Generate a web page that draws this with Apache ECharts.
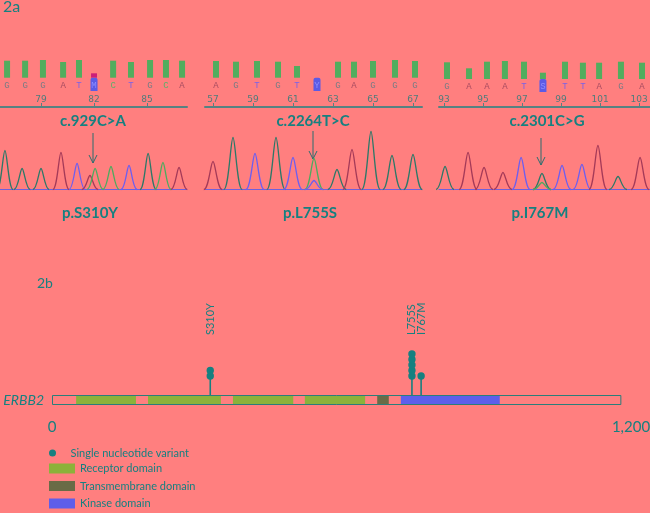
<!DOCTYPE html>
<html><head><meta charset="utf-8">
<script src="https://cdn.jsdelivr.net/npm/echarts@6/dist/echarts.min.js"></script>
<style>html,body{margin:0;padding:0;background:#FF7F7F}#c{width:650px;height:513px}</style>
</head><body><div id="c"></div><script>
// ---------- DATA ----------
// Panel 1: c.929C>A (p.S310Y)
const p1Bases = ['G','G','G','A','T','M','C','T','G','C','A'];
const p1BasePos = [77.08,78.10,79.11,80.25,81.15,82.00,83.08,84.09,85.17,86.07,86.98];
const p1Quality = [17,17,17.7,15.7,17.7,4.4,17,15.7,17.7,17.7,17];
const p1Ticks = [79,82,85];
const p1PeakPos = [76.96,77.93,79.00,80.13,81.04,81.77,82.06,82.96,83.98,85.06,85.90,86.81];
const p1PeakHeight = [39,21,21,37,26,14,21,23,24,36,27,22];
const p1PeakBase = ['G','G','G','A','T','A','C','C','T','G','C','A'];
const p1MutIndex = 5;

// Panel 2: c.2264T>C (p.L755S)
const p2Bases = ['A','G','T','G','T','Y','G','A','G','G','G'];
const p2BasePos = [57.15,58.15,59.2,60.25,61.2,62.2,63.25,64.05,65.0,66.1,67.1];
const p2Quality = [16.7,16,16.7,16,11.7,0,16,16,16.7,17.7,16.7];
const p2Ticks = [57,59,61,63,65,67];
const p2PeakPos = [57.0,58.0,59.1,60.15,61.0,62.05,62.05,63.2,63.95,64.9,65.95,67.0];
const p2PeakHeight = [28,52,36,52,32,31,9,20,40,58,34,35];
const p2PeakBase = ['A','G','T','G','T','C','T','G','A','G','G','G'];
const p2MutIndex = 5;

// Panel 3: c.2301C>G (p.I767M)
const p3Bases = ['G','A','A','A','T','S','T','T','A','G','A'];
const p3BasePos = [93.15,94.28,95.2,96.12,97.1,98.07,99.2,100.12,100.95,102.07,103.15];
const p3Quality = [16.7,10.7,17.3,18,17.3,6.3,17.3,16.3,16.3,17.3,16.3];
const p3Ticks = [93,95,97,99,101,103];
const p3PeakPos = [93.05,94.23,95.05,96.02,96.95,98.02,98.02,99.05,100.07,100.89,101.92,103.05];
const p3PeakHeight = [23,37,22,17,32,16,7,24,25,44,13,32];
const p3PeakBase = ['G','A','A','A','T','G','C','T','T','A','G','A'];
const p3MutIndex = 5;

const cdnaLabels = ['c.929C>A','c.2264T>C','c.2301C>G'];
const proteinLabels = ['p.S310Y','p.L755S','p.I767M'];

// Panel 2b: ERBB2 lollipop
const variantLabels = ['S310Y','L755S','I767M'];
const variantPos = [328, 746, 765];
const variantCount = [2, 5, 1];
const proteinSpan = [[0, 1180]];
const receptorDomains = [[50,174],[199,350],[375,500],[524,649]];
const transmembraneDomains = [[674,698]];
const kinaseDomains = [[723,928]];
const proteinAxisTicks = [0, 1200];

// ---------- STYLE ----------
const TEAL = '#168080';
const chan = {G:'#2c7868', A:'#a53a58', T:'#6d5ef0', C:'#4dab5e'};
const letterCol = {G:'#7a7c84', A:'#a54a5f', T:'#7a62e8', C:'#5db06a'};
const FONT = 'Lato, "Open Sans", sans-serif';

const panels = [
  {left:0,   width:187, min:76.68, max:87.26, barBase:29.3, mutBar:'#cc1f78', pos:p1BasePos, q:p1Quality, bases:p1Bases, ticks:p1Ticks, pk:p1PeakPos, ph:p1PeakHeight, pb:p1PeakBase, mut:p1MutIndex},
  {left:205, width:217, min:56.6,  max:67.45, barBase:29.3, mutBar:'#52ad5e', pos:p2BasePos, q:p2Quality, bases:p2Bases, ticks:p2Ticks, pk:p2PeakPos, ph:p2PeakHeight, pb:p2PeakBase, mut:p2MutIndex},
  {left:439, width:211, min:92.74, max:103.56, barBase:28, mutBar:'#52ad5e', pos:p3BasePos, q:p3Quality, bases:p3Bases, ticks:p3Ticks, pk:p3PeakPos, ph:p3PeakHeight, pb:p3PeakBase, mut:p3MutIndex}
];

const grids = [], xAxes = [], yAxes = [], series = [];
panels.forEach((P, i) => {
  grids.push({left:P.left, width:P.width, top:50, height:57, outerBoundsMode:'none', containLabel:false});
  xAxes.push({type:'value', gridIndex:i, min:P.min, max:P.max, splitLine:{show:false},
    axisLine:{show:true, lineStyle:{color:'#568282', width:2}},
    axisTick:{show:true, inside:true, length:4, lineStyle:{color:'#568282', width:1}, customValues:P.ticks},
    axisLabel:{show:true, inside:true, margin:3, fontSize:9, color:'#4f7c7c', fontFamily:'"DejaVu Sans", sans-serif', customValues:P.ticks}});
  yAxes.push({type:'value', gridIndex:i, min:0, max:57, show:false});
});
panels.forEach((P, i) => {
  grids.push({left:P.left, width:P.width, top:129.5, height:60, outerBoundsMode:'none', containLabel:false});
  xAxes.push({type:'value', gridIndex:3+i, min:P.min, max:P.max, splitLine:{show:false},
    axisLine:{show:true, lineStyle:{color:'#6f60dc', width:1}}, axisTick:{show:false}, axisLabel:{show:false}});
  yAxes.push({type:'value', gridIndex:3+i, min:0, max:60, show:false});
});
grids.push({left:52, width:579, top:300, height:105, outerBoundsMode:'none', containLabel:false});
xAxes.push({type:'value', gridIndex:6, min:0, max:1200, splitLine:{show:false}, axisLine:{show:false}, axisTick:{show:false},
  axisLabel:{show:true, margin:15, fontSize:15, color:TEAL, fontFamily:FONT, customValues:proteinAxisTicks,
    formatter:v => v.toLocaleString('en-US')}});
yAxes.push({type:'value', gridIndex:6, min:0, max:105, show:false});

panels.forEach((P, i) => {
  series.push({type:'custom', xAxisIndex:i, yAxisIndex:i, silent:true,
    data:P.pos.map((p,k)=>[p, P.q[k], k]),
    renderItem:(params, api) => {
      const q = api.value(1); if (!q) return;
      const b = api.coord([api.value(0), P.barBase]), t = api.coord([api.value(0), P.barBase + q]);
      return {type:'rect', shape:{x:b[0]-3, y:t[1], width:6, height:b[1]-t[1]},
        style:{fill: api.value(2) === P.mut ? P.mutBar : '#52ad5e'}};
    }});
  series.push({type:'custom', xAxisIndex:i, yAxisIndex:i, silent:true,
    data:P.pos.map((p,k)=>[p, k]),
    renderItem:(params, api) => {
      const k = api.value(1);
      const c = api.coord([api.value(0), 107-86 - (i===2?1:0)]);
      const children = [];
      if (k === P.mut) {
        const top = api.coord([api.value(0), P.barBase]);
        children.push({type:'rect', shape:{x:c[0]-3.5, y:top[1], width:7, height:c[1]+5-top[1], r:[2,2,0,0]}, style:{fill:'#5b5be6'}});
      }
      children.push({type:'text', x:c[0], y:c[1], style:{text:P.bases[k], fill: k===P.mut ? '#8c8cff' : letterCol[P.bases[k]],
        font:'9px "Liberation Mono", monospace', align:'center', verticalAlign:'middle'}});
      return {type:'group', children};
    }});
  series.push({type:'custom', xAxisIndex:3+i, yAxisIndex:3+i, silent:true,
    data:P.pk.map((p,k)=>[p, P.ph[k], k]),
    renderItem:(params, api) => {
      const k = api.value(2);
      const b = api.coord([api.value(0), 0]), t = api.coord([api.value(0), api.value(1)]);
      const w = api.size([0.46, 0])[0];
      const x = b[0], y0 = b[1], y1 = t[1];
      const d = `M${x-w},${y0} C${x-w*0.45},${y0} ${x-w*0.25},${y1} ${x},${y1} C${x+w*0.25},${y1} ${x+w*0.45},${y0} ${x+w},${y0}`;
      return {type:'path', shape:{pathData:d}, style:{fill:'none', stroke:chan[P.pb[k]], lineWidth:1.3}};
    }});
});

function domainSeries(name, data, color) {
  return {type:'custom', name, xAxisIndex:6, yAxisIndex:6, itemStyle:{color}, silent:true,
    data,
    renderItem:(params, api) => {
      const a = api.coord([api.value(0), 9.5]), b = api.coord([api.value(1), 0.5]);
      return {type:'rect', shape:{x:a[0], y:a[1], width:b[0]-a[0], height:b[1]-a[1]}, style:{fill:color}};
    }};
}
series.push(domainSeries('Receptor domain', receptorDomains, '#8cb23a'));
series.push(domainSeries('Transmembrane domain', transmembraneDomains, '#6a6b46'));
series.push(domainSeries('Kinase domain', kinaseDomains, '#5e5eea'));
series.push({type:'custom', xAxisIndex:6, yAxisIndex:6, silent:true, data:proteinSpan,
  renderItem:(params, api) => {
    const a = api.coord([api.value(0), 10]), b = api.coord([api.value(1), 0]);
    return {type:'rect', shape:{x:a[0]+0.5, y:a[1]+0.5, width:b[0]-a[0]-1, height:b[1]-a[1]-1}, style:{fill:'none', stroke:'#2a7e7a', lineWidth:1}};
  }});
series.push({type:'custom', name:'Single nucleotide variant', xAxisIndex:6, yAxisIndex:6, itemStyle:{color:TEAL}, silent:true,
  data:variantPos.map((p,k)=>[p, variantCount[k], k]),
  renderItem:(params, api) => {
    const x = api.value(0), n = api.value(1), k = api.value(2);
    const base = api.coord([x, 10]), first = api.coord([x, 29]);
    const step = 5.5;
    const children = [{type:'line', shape:{x1:base[0], y1:base[1], x2:base[0], y2:first[1]}, style:{stroke:TEAL, lineWidth:1.6}}];
    for (let j=0;j<n;j++) children.push({type:'circle', shape:{cx:base[0], cy:first[1]-j*step, r:3.7}, style:{fill:TEAL}});
    const lab = api.coord([x, 70]);
    children.push({type:'text', x:lab[0], y:lab[1], rotation:Math.PI/2,
      style:{text:variantLabels[k], fill:TEAL, font:'11px ' + FONT, align:'left', verticalAlign:'middle'}});
    return {type:'group', children};
  }});

function arrow(x, y1, y2) {
  return {type:'group', children:[
    {type:'line', shape:{x1:x, y1:y1, x2:x, y2:y2}, style:{stroke:'#2b6f6f', lineWidth:1}},
    {type:'polyline', shape:{points:[[x-4,y2-8],[x,y2],[x+4,y2-8]]}, style:{stroke:'#2b6f6f', fill:null, lineWidth:1}}]};
}
function txt(text, x, y, font, align) {
  return {type:'text', x, y, style:{text, fill:TEAL, font, align:align||'center', verticalAlign:'middle'}};
}
const cdnaX = [93, 313, 547], protX = [90, 310, 540];
const graphic = [
  txt('2a', 3, 7, '16px ' + FONT, 'left'),
  txt('2b', 37, 283, '14px ' + FONT, 'left'),
  txt('ERBB2', 44, 400, 'italic 14px ' + FONT, 'right'),
  arrow(93, 133, 163), arrow(313, 131, 159), arrow(541, 138, 165)
];
cdnaLabels.forEach((t,i) => graphic.push(txt(t, cdnaX[i], 121.5, 'bold 15px ' + FONT)));
proteinLabels.forEach((t,i) => graphic.push(txt(t, protX[i], 213.5, 'bold 15px ' + FONT)));

const chart = echarts.init(document.getElementById('c'), null, {renderer:'canvas'});
chart.setOption({
  backgroundColor:'#FF7F7F',
  animation:false,
  grid:grids, xAxis:xAxes, yAxis:yAxes, series, graphic,
  legend:[
    {orient:'vertical', left:49, top:447, itemWidth:26, itemHeight:7, selectedMode:false, padding:0,
      textStyle:{fontSize:11, color:TEAL, fontFamily:FONT, lineHeight:12}, data:[{name:'Single nucleotide variant', icon:'circle'}]},
    {orient:'vertical', left:49, top:463, height:60, itemWidth:26, itemHeight:10, itemGap:6.5, selectedMode:false, padding:0,
      textStyle:{fontSize:11, color:TEAL, fontFamily:FONT, lineHeight:10},
      data:[{name:'Receptor domain', icon:'rect'},{name:'Transmembrane domain', icon:'rect'},{name:'Kinase domain', icon:'rect'}]}
  ]
});
</script></body></html>
